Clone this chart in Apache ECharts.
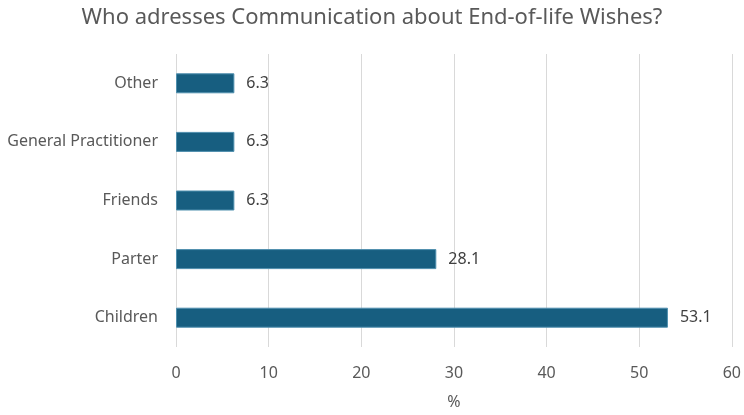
<!DOCTYPE html>
<html>
<head>
<meta charset="utf-8">
<script src="https://cdn.jsdelivr.net/npm/echarts@6/dist/echarts.min.js"></script>
<style>
  html, body { margin: 0; padding: 0; background: #fff; }
  #chart { width: 744px; height: 415px; }
</style>
</head>
<body>
<div id="chart"></div>
<script>
  // categories bottom to top
  const categories = ['Children', 'Parter', 'Friends', 'General Practitioner', 'Other']
  const percentValues = [53.1, 28.1, 6.3, 6.3, 6.3]
  const xTicks = [0, 10, 20, 30, 40, 50, 60]

  const chart = echarts.init(document.getElementById('chart'))
  chart.setOption({
    animation: false,
    textStyle: { fontFamily: 'Noto Sans' },
    title: {
      text: 'Who adresses Communication about End-of-life Wishes?',
      left: 'center',
      top: 2,
      textStyle: { fontSize: 22, fontWeight: 'normal', color: '#595959', fontFamily: 'Noto Sans' }
    },
    grid: { left: 176, right: 9, top: 54, bottom: 63 },
    xAxis: {
      type: 'value',
      min: xTicks[0],
      max: xTicks[xTicks.length - 1],
      interval: 10,
      name: '%',
      nameLocation: 'middle',
      nameGap: 47,
      nameTextStyle: { fontSize: 16, color: '#595959' },
      axisLine: { show: false },
      axisTick: { show: false },
      axisLabel: { fontSize: 16, color: '#595959', margin: 18 },
      splitLine: { lineStyle: { color: '#d9d9d9', width: 1 } }
    },
    yAxis: {
      type: 'category',
      data: categories,
      axisLine: { show: false },
      axisTick: { show: false },
      axisLabel: { fontSize: 16, color: '#595959', margin: 18 }
    },
    series: [{
      type: 'bar',
      data: percentValues,
      barWidth: 20,
      itemStyle: { color: '#175e80', borderColor: '#4f8fae', borderWidth: 1 },
      label: {
        show: true,
        position: 'right',
        distance: 12,
        fontSize: 16,
        color: '#404040',
        formatter: p => p.value.toFixed(1)
      }
    }]
  })
</script>
</body>
</html>
